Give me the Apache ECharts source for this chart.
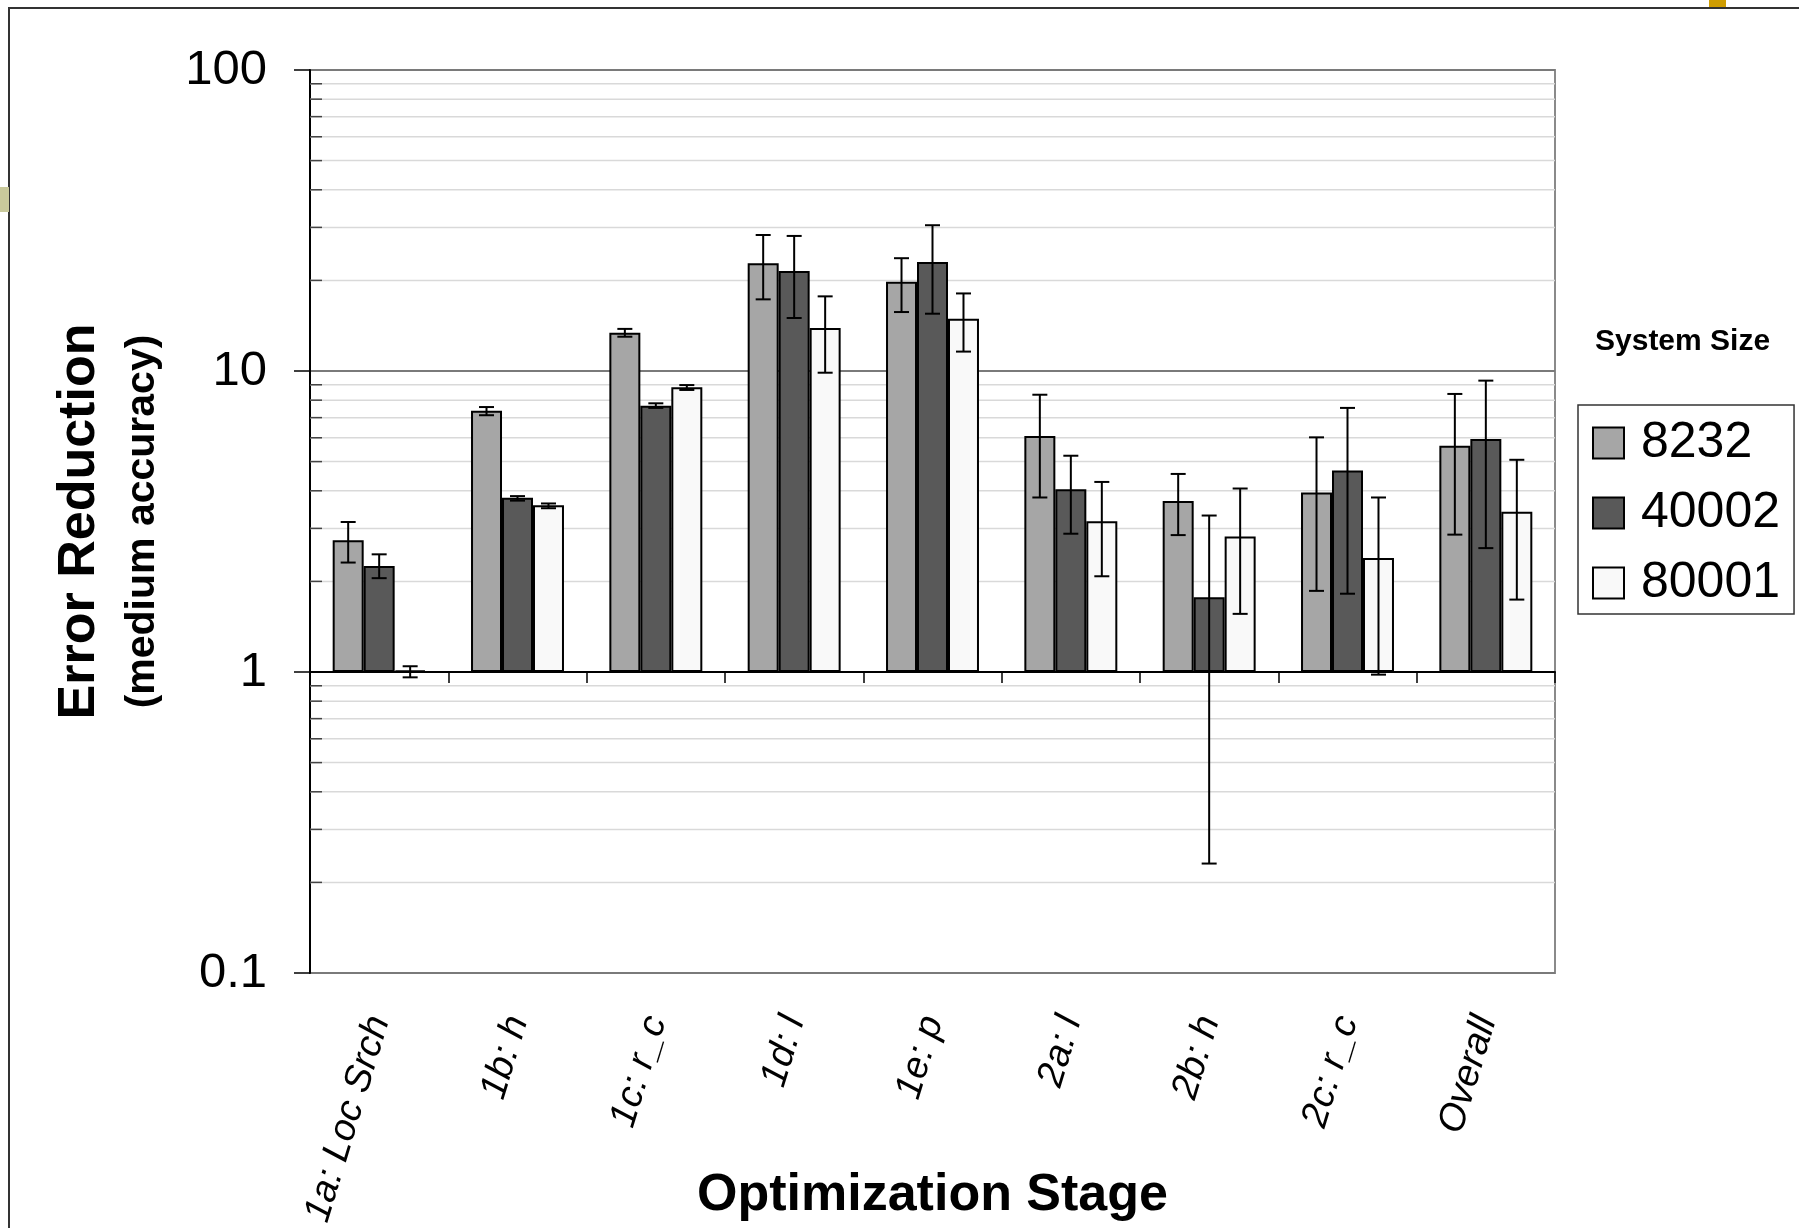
<!DOCTYPE html>
<html>
<head>
<meta charset="utf-8">
<script src="https://cdn.jsdelivr.net/npm/echarts@6/dist/echarts.min.js"></script>
<style>
  html, body { margin: 0; padding: 0; background: #fff; }
  #chart { width: 1799px; height: 1228px; }
</style>
</head>
<body>
<div id="chart"></div>
<script>
// ---------------- data ----------------
const categories = ['1a: Loc Srch', '1b: h', '1c: r_c', '1d: l', '1e: p', '2a: l', '2b: h', '2c: r_c', 'Overall'];
const seriesNames = ['8232', '40002', '80001'];

const values8232  = [2.74, 7.38, 13.4, 22.8, 19.8, 6.08, 3.70, 3.95, 5.64];
const errLow8232  = [2.31, 7.13, 13.0, 17.3, 15.7, 3.80, 2.85, 1.86, 2.86];
const errHigh8232 = [3.15, 7.59, 13.8, 28.3, 23.7, 8.34, 4.55, 6.02, 8.39];

const values40002  = [2.25, 3.79, 7.67, 21.5, 23.0, 4.05, 1.77, 4.67, 5.94];
const errLow40002  = [2.05, 3.71, 7.54, 15.0, 15.5, 2.88, 0.231, 1.82, 2.58];
const errHigh40002 = [2.46, 3.84, 7.81, 28.1, 30.5, 5.23, 3.31, 7.54, 9.29];

const values80001  = [1.01, 3.58, 8.83, 13.9, 14.9, 3.17, 2.82, 2.39, 3.41];
const errLow80001  = [0.96, 3.50, 8.65, 9.87, 11.6, 2.08, 1.56, 0.98, 1.74];
const errHigh80001 = [1.045, 3.63, 8.98, 17.7, 18.1, 4.28, 4.07, 3.80, 5.07];

const yTickLabels = ['0.1', '1', '10', '100'];
const minorGridValues = [0.2, 0.3, 0.4, 0.5, 0.6, 0.7, 0.8, 0.9,
                         2, 3, 4, 5, 6, 7, 8, 9,
                         20, 30, 40, 50, 60, 70, 80, 90];

// ---------------- styles ----------------
const FONT = 'Liberation Sans, Arial, sans-serif';
const barColors = ['#a6a6a6', '#595959', '#f9f9f9'];
const BAR_PCT = 0.224;

const seriesValues = [values8232, values40002, values80001];
const seriesLow = [errLow8232, errLow40002, errLow80001];
const seriesHigh = [errHigh8232, errHigh40002, errHigh80001];

const chart = echarts.init(document.getElementById('chart'), null, { renderer: 'canvas' });

const barSeries = seriesNames.map((name, i) => ({
  name: name,
  type: 'bar',
  xAxisIndex: 0,
  yAxisIndex: 0,
  data: seriesValues[i],
  barWidth: (BAR_PCT * 100) + '%',
  barGap: '0%',
  z: 3,
  itemStyle: { color: barColors[i], borderColor: '#000', borderWidth: 2 }
}));

const errorSeries = seriesNames.map((name, i) => ({
  name: name + ' error',
  type: 'custom',
  xAxisIndex: 0,
  yAxisIndex: 0,
  z: 5,
  silent: true,
  data: categories.map((c, k) => [k, seriesLow[i][k], seriesHigh[i][k]]),
  renderItem: function (params, api) {
    const k = api.value(0);
    const bw = api.size([1, 0])[0] * BAR_PCT;
    const x = api.coord([k, 1])[0] + (i - 1) * bw;
    const yLo = api.coord([k, api.value(1)])[1];
    const yHi = api.coord([k, api.value(2)])[1];
    const cap = 7.5;
    const st = { stroke: '#000', lineWidth: 2 };
    return {
      type: 'group',
      children: [
        { type: 'line', shape: { x1: x, y1: yLo, x2: x, y2: yHi }, style: st },
        { type: 'line', shape: { x1: x - cap, y1: yHi, x2: x + cap, y2: yHi }, style: st },
        { type: 'line', shape: { x1: x - cap, y1: yLo, x2: x + cap, y2: yLo }, style: st }
      ]
    };
  }
}));

const minorGridSeries = {
  name: 'minor grid',
  type: 'custom',
  xAxisIndex: 0,
  yAxisIndex: 0,
  z: 1,
  silent: true,
  clip: false,
  data: minorGridValues.map(v => [0, v]),
  renderItem: function (params, api) {
    const cs = params.coordSys;
    const y = api.coord([0, api.value(1)])[1];
    return {
      type: 'group',
      children: [
        { type: 'line', shape: { x1: cs.x, y1: y, x2: cs.x + cs.width, y2: y },
          style: { stroke: '#d9d9d9', lineWidth: 1.5 } },
        { type: 'line', shape: { x1: cs.x, y1: y, x2: cs.x + 12, y2: y },
          style: { stroke: '#444', lineWidth: 1.5 } }
      ]
    };
  }
};

const option = {
  backgroundColor: '#ffffff',
  animation: false,
  textStyle: { fontFamily: FONT, color: '#000' },
  title: {
    text: 'System Size',
    left: 1590,
    top: 322,
    textStyle: { fontFamily: FONT, fontSize: 30, fontWeight: 'bold', color: '#000' }
  },
  legend: {
    data: seriesNames,
    orient: 'vertical',
    left: 1578,
    top: 405,
    padding: [13, 14, 6, 14],
    itemGap: 20,
    itemWidth: 31,
    itemHeight: 31,
    icon: 'rect',
    borderColor: '#333',
    borderWidth: 1.5,
    backgroundColor: '#fff',
    itemStyle: { borderColor: '#000', borderWidth: 2 },
    textStyle: { fontFamily: FONT, fontSize: 50, lineHeight: 50, color: '#000', padding: [0, 0, 0, 12] },
    selectedMode: false
  },
  grid: {
    left: 310,
    right: 244,
    top: 70,
    bottom: 255,
    show: true,
    borderColor: '#8a8a8a',
    borderWidth: 2,
    backgroundColor: 'transparent',
    containLabel: false,
    outerBoundsMode: 'none'
  },
  xAxis: [
    {
      type: 'category',
      position: 'bottom',
      data: categories,
      axisLine: { show: false },
      axisTick: { show: false },
      axisLabel: {
        interval: 0,
        rotate: 73,
        margin: 44,
        fontSize: 38,
        fontStyle: 'italic',
        fontFamily: FONT,
        color: '#000'
      },
      name: 'Optimization Stage',
      nameLocation: 'middle',
      nameGap: 223,
      nameMoveOverlap: false,
      nameTextStyle: { fontFamily: FONT, fontSize: 52, fontWeight: 'bold', color: '#000', verticalAlign: 'middle' }
    },
    {
      type: 'category',
      position: 'top',
      offset: -602,
      data: categories,
      axisLine: { show: true, lineStyle: { color: '#000', width: 2 } },
      axisTick: { show: true, inside: true, length: 11, alignWithLabel: false, lineStyle: { color: '#000', width: 1.5 } },
      axisLabel: { show: false },
      splitLine: { show: false }
    }
  ],
  yAxis: {
    type: 'log',
    logBase: 10,
    min: 0.1,
    max: 100,
    axisLine: { show: true, lineStyle: { color: '#000', width: 2 } },
    axisTick: { show: true, inside: false, length: 16, lineStyle: { color: '#000', width: 1.5 } },
    axisLabel: {
      margin: 43,
      fontSize: 49,
      fontFamily: FONT,
      color: '#000',
      formatter: function (v) {
        const s = String(Math.round(v * 1000) / 1000);
        return yTickLabels.indexOf(s) >= 0 ? s : '';
      }
    },
    splitLine: { show: true, lineStyle: { color: '#7a7a7a', width: 2 } },
    name: '{a|Error Reduction}\n{b|(medium accuracy)}',
    nameLocation: 'middle',
    nameRotate: 90,
    nameGap: 197,
    nameMoveOverlap: false,
    nameTextStyle: {
      verticalAlign: 'middle',
      rich: {
        a: { fontFamily: FONT, fontSize: 52, fontWeight: 'bold', lineHeight: 60, color: '#000' },
        b: { fontFamily: FONT, fontSize: 41, fontWeight: 'bold', lineHeight: 66, color: '#000' }
      }
    }
  },
  graphic: [
    { type: 'rect', silent: true, z: 100, shape: { x: 9, y: 8, width: 1800, height: 1240 },
      style: { fill: 'none', stroke: '#333', lineWidth: 2 } },
    { type: 'rect', silent: true, z: 100, shape: { x: 1709, y: 0, width: 17, height: 7 },
      style: { fill: '#cf9d02' } },
    { type: 'rect', silent: true, z: 100, shape: { x: 0, y: 187, width: 9, height: 25 },
      style: { fill: '#c9c99b' } }
  ],
  series: [minorGridSeries].concat(barSeries, errorSeries)
};

chart.setOption(option);
</script>
</body>
</html>
